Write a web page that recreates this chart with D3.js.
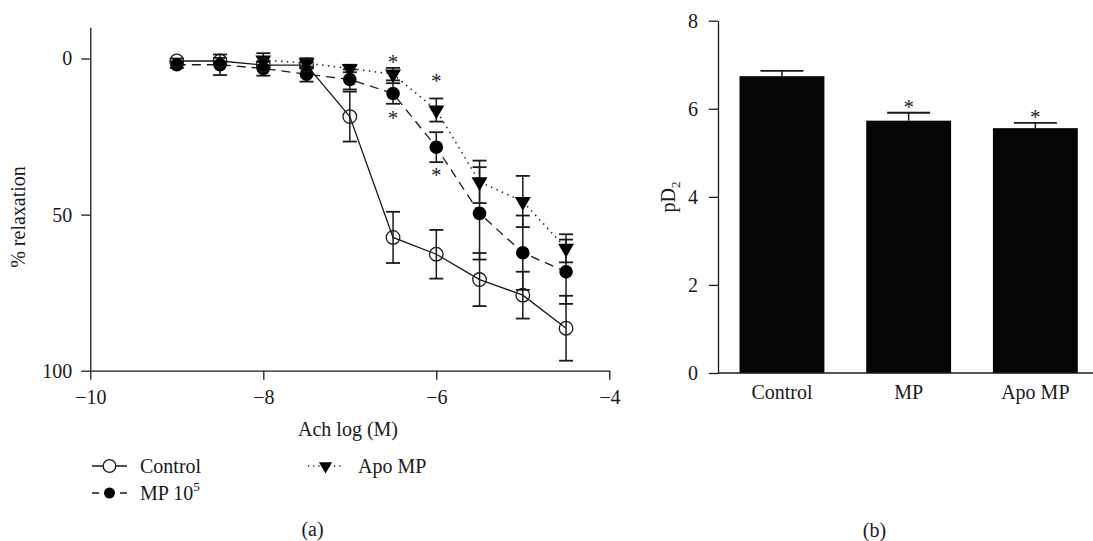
<!DOCTYPE html>
<html>
<head>
<meta charset="utf-8">
<script src="https://cdn.jsdelivr.net/npm/d3@7"></script>
<style>
  body { margin: 0; background: #fff; }
  svg, svg text { font-family: "Liberation Serif", "DejaVu Serif", serif; }
  .axis path, .axis line { stroke: #1a1a1a; stroke-width: 1.3; }
  .axis text { font-size: 20px; fill: #1a1a1a; }
</style>
</head>
<body>
<svg id="drawing_region"></svg>
<script>
// ---- data (a): concentration-response curves ----
const doses = [-9, -8.5, -8, -7.5, -7, -6.5, -6, -5.5, -5, -4.5];

const controlMean = [0.8, 0.8, 2.1, 2.1, 18.6, 57.3, 62.7, 70.8, 75.8, 86.4];
const controlErr  = [0.8, 1.0, 1.0, 1.0, 8.0, 8.2, 7.8, 8.5, 7.5, 10.4];

const mpMean = [2.0, 2.0, 3.2, 5.0, 6.7, 11.2, 28.4, 49.6, 62.2, 68.3];
const mpErr  = [1.0, 3.3, 2.3, 2.4, 3.2, 3.3, 4.8, 14.8, 11.9, 10.3];

const apoDoses = [-8, -7.5, -7, -6.5, -6, -5.5, -5, -4.5];
const apoMean  = [0.5, 1.5, 3.2, 5.0, 16.5, 39.5, 45.8, 60.8];
const apoErr   = [2.2, 1.6, 1.2, 2.0, 3.7, 6.8, 8.2, 4.5];

// asterisks (dose, % relaxation)
const sigDose  = [-6.5, -6.5, -6, -6];
const sigValue = [0.3, 18.1, 6.1, 36.3];

const relaxTicks = [0, 50, 100];
const doseTicks = [-10, -8, -6, -4];

// ---- data (b): pD2 ----
const groups = ["Control", "MP", "Apo MP"];
const pd2Mean = [6.74, 5.73, 5.56];
const pd2Err  = [0.12, 0.18, 0.12];
const pd2Sig  = [false, true, true];
const pd2Ticks = [0, 2, 4, 6, 8];

const W = 1093, H = 541;
const svg = d3.select('#drawing_region').attr('width', W).attr('height', H);
const ink = '#1a1a1a';
const fmt = d3.format('d');

// ================= panel (a) =================
const xs = d3.scaleLinear().domain([-10, -4]).range([90.3, 609.3]);
const ys = d3.scaleLinear().domain([-10, 100]).range([27.3, 370.7]);

svg.append('g').attr('class', 'axis')
    .attr('transform', `translate(0, ${ys(100)})`)
    .call(d3.axisBottom(xs).tickValues(doseTicks).tickFormat(fmt).tickSize(9).tickSizeOuter(0).tickPadding(10))
    .attr('font-family', null).attr('font-size', null);

svg.append('g').attr('class', 'axis')
    .attr('transform', `translate(${xs(-10)}, 0)`)
    .call(d3.axisLeft(ys).tickValues(relaxTicks).tickFormat(fmt).tickSize(9).tickSizeOuter(0).tickPadding(9))
    .attr('font-family', null).attr('font-size', null);

const series = [
    { name: 'control', x: doses, m: controlMean, e: controlErr, dash: null, width: 1.3 },
    { name: 'mp', x: doses, m: mpMean, e: mpErr, dash: '9,6', width: 1.3 },
    { name: 'apo', x: apoDoses, m: apoMean, e: apoErr, dash: '1.4,4.5', width: 1.5 },
];

const line = d3.line().x(d => xs(d[0])).y(d => ys(d[1]));

// lines
series.forEach(s => {
    const pts = s.x.map((x, i) => [x, s.m[i]]);
    svg.append('path')
        .attr('d', line(pts))
        .attr('fill', 'none')
        .attr('stroke', ink)
        .attr('stroke-width', s.width)
        .attr('stroke-dasharray', s.dash);
});

// error bars
const capHalf = 7;
series.forEach(s => {
    const g = svg.append('g');
    s.x.forEach((x, i) => {
        const cx = xs(x), lo = ys(s.m[i] - s.e[i]), hi = ys(s.m[i] + s.e[i]);
        g.append('line').attr('x1', cx).attr('x2', cx).attr('y1', lo).attr('y2', hi)
            .attr('stroke', ink).attr('stroke-width', 1.5);
        [lo, hi].forEach(yy => g.append('line')
            .attr('x1', cx - capHalf).attr('x2', cx + capHalf).attr('y1', yy).attr('y2', yy)
            .attr('stroke', ink).attr('stroke-width', 1.8));
    });
});

// markers
const tri = d3.symbol().type(d3.symbolTriangle).size(110);
svg.append('g').selectAll('path')
    .data(apoDoses.map((x, i) => [x, apoMean[i]]))
    .enter().append('path')
    .attr('d', tri)
    .attr('transform', d => `translate(${xs(d[0])}, ${ys(d[1])}) rotate(180)`)
    .attr('fill', '#000');

svg.append('g').selectAll('circle')
    .data(doses.map((x, i) => [x, mpMean[i]]))
    .enter().append('circle')
    .attr('cx', d => xs(d[0])).attr('cy', d => ys(d[1])).attr('r', 6.8)
    .attr('fill', '#000');

svg.append('g').selectAll('circle')
    .data(doses.map((x, i) => [x, controlMean[i]]))
    .enter().append('circle')
    .attr('cx', d => xs(d[0])).attr('cy', d => ys(d[1])).attr('r', 6.8)
    .attr('fill', 'none').attr('stroke', ink).attr('stroke-width', 1.3);

// significance marks
svg.append('g').selectAll('text')
    .data(sigDose.map((x, i) => [x, sigValue[i]]))
    .enter().append('text')
    .attr('x', d => xs(d[0])).attr('y', d => ys(d[1]) + 10)
    .attr('text-anchor', 'middle')
    .style('font-size', '21px').attr('fill', ink)
    .text('*');

// axis titles
svg.append('text').attr('x', 348).attr('y', 436).attr('text-anchor', 'middle')
    .style('font-size', '20px').attr('fill', ink).text('Ach log (M)');
svg.append('text').attr('transform', 'translate(25, 217) rotate(-90)')
    .attr('text-anchor', 'middle')
    .style('font-size', '20px').attr('fill', ink).text('% relaxation');

// legend
const leg = svg.append('g');
// control
leg.append('line').attr('x1', 92).attr('x2', 127).attr('y1', 466).attr('y2', 466)
    .attr('stroke', ink).attr('stroke-width', 1.3);
leg.append('circle').attr('cx', 109.5).attr('cy', 466).attr('r', 6.3)
    .attr('fill', '#fff').attr('stroke', ink).attr('stroke-width', 1.3);
leg.append('text').attr('x', 140).attr('y', 473).style('font-size', '20px').attr('fill', ink).text('Control');
// MP
leg.append('line').attr('x1', 92).attr('x2', 127).attr('y1', 493).attr('y2', 493)
    .attr('stroke', ink).attr('stroke-width', 1.5).attr('stroke-dasharray', '7,21');
leg.append('circle').attr('cx', 109.5).attr('cy', 493).attr('r', 5.5).attr('fill', '#000');
const mpText = leg.append('text').attr('x', 140).attr('y', 500).style('font-size', '20px').attr('fill', ink);
mpText.append('tspan').text('MP 10');
mpText.append('tspan').attr('dy', -9).style('font-size', '13px').text('5');
// Apo MP
leg.append('line').attr('x1', 308).attr('x2', 343).attr('y1', 466).attr('y2', 466)
    .attr('stroke', ink).attr('stroke-width', 1.5).attr('stroke-dasharray', '1.2,4');
leg.append('path').attr('d', d3.symbol().type(d3.symbolTriangle).size(75))
    .attr('transform', 'translate(325.5, 466) rotate(180)').attr('fill', '#000');
leg.append('text').attr('x', 358).attr('y', 473).style('font-size', '20px').attr('fill', ink).text('Apo MP');

svg.append('text').attr('x', 312.5).attr('y', 536).attr('text-anchor', 'middle')
    .style('font-size', '20px').attr('fill', ink).text('(a)');

// ================= panel (b) =================
const xb = d3.scaleBand().domain(groups).range([724.3, 1093]).paddingInner(0.33).paddingOuter(0.12);
const yb = d3.scaleLinear().domain([0, 8]).range([373, 20.7]);

svg.append('g').attr('class', 'axis')
    .attr('transform', `translate(718, 0)`)
    .call(d3.axisLeft(yb).tickValues(pd2Ticks).tickFormat(fmt).tickSize(9).tickSizeOuter(0).tickPadding(11))
    .attr('font-family', null).attr('font-size', null);

svg.append('g').selectAll('rect')
    .data(groups)
    .enter().append('rect')
    .attr('x', d => xb(d)).attr('width', xb.bandwidth())
    .attr('y', (d, i) => yb(pd2Mean[i]))
    .attr('height', (d, i) => yb(0) - yb(pd2Mean[i]))
    .attr('fill', '#050505');

const xbAxis = svg.append('g').attr('class', 'axis')
    .attr('transform', `translate(0, ${yb(0)})`)
    .call(d3.axisBottom(xb).tickSize(0).tickPadding(12))
    .attr('font-family', null).attr('font-size', null);
xbAxis.select('.domain').remove();
svg.append('line').attr('x1', 718).attr('x2', 1093).attr('y1', yb(0)).attr('y2', yb(0))
    .attr('stroke', ink).attr('stroke-width', 1.3);

// bar error bars (upper only)
groups.forEach((gname, i) => {
    const cx = xb(gname) + xb.bandwidth() / 2;
    const top = yb(pd2Mean[i] + pd2Err[i]);
    svg.append('line').attr('x1', cx).attr('x2', cx).attr('y1', yb(pd2Mean[i])).attr('y2', top)
        .attr('stroke', ink).attr('stroke-width', 1.5);
    svg.append('line').attr('x1', cx - 21.5).attr('x2', cx + 21.5).attr('y1', top).attr('y2', top)
        .attr('stroke', ink).attr('stroke-width', 1.8);
    if (pd2Sig[i]) {
        svg.append('text').attr('x', cx).attr('y', top + 1).attr('text-anchor', 'middle')
            .style('font-size', '21px').attr('fill', ink).text('*');
    }
});

svg.append('text').attr('transform', 'translate(675, 197) rotate(-90)')
    .attr('text-anchor', 'middle').style('font-size', '20px').attr('fill', ink)
    .call(t => {
        t.append('tspan').text('pD');
        t.append('tspan').attr('dy', 5).style('font-size', '13px').text('2');
    });

svg.append('text').attr('x', 874.5).attr('y', 537).attr('text-anchor', 'middle')
    .style('font-size', '20px').attr('fill', ink).text('(b)');
</script>
</body>
</html>
